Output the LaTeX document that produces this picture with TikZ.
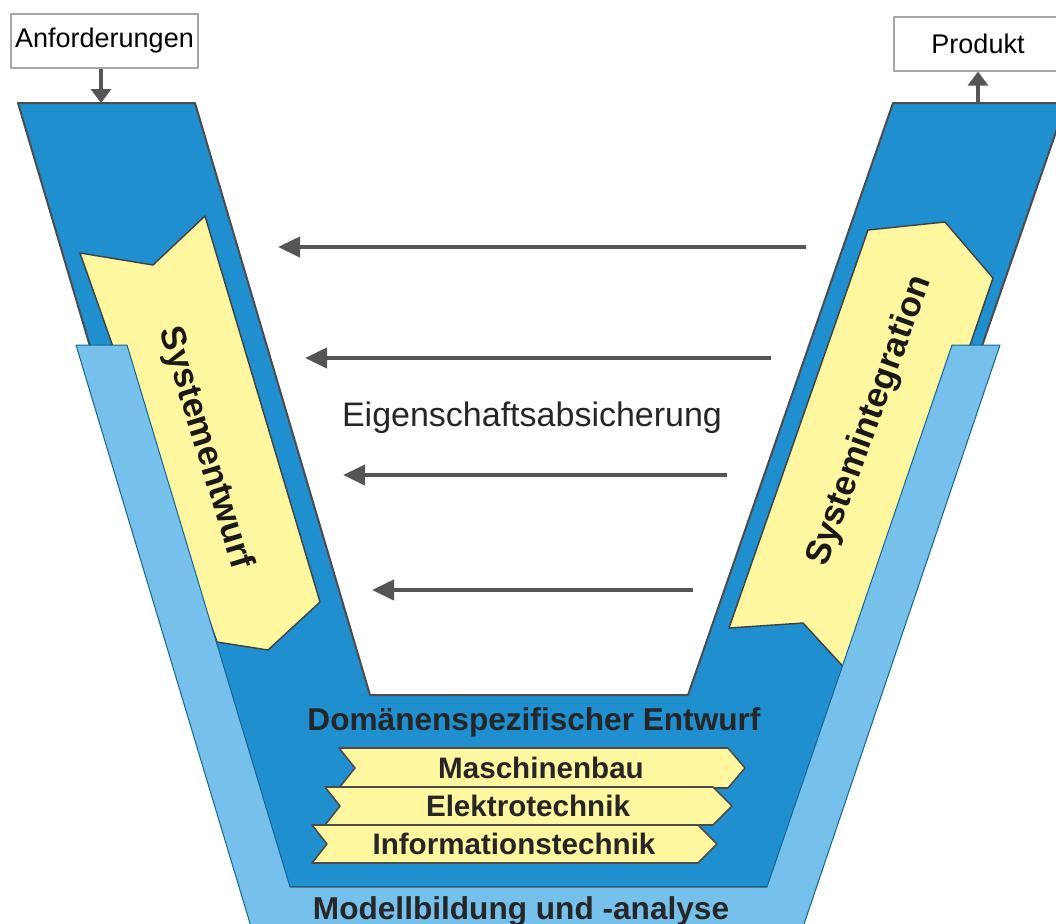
\documentclass[tikz,border=0pt]{standalone}
\usepackage{fontspec}
\setmainfont{Liberation Sans}
\usepackage{tikz}
\usetikzlibrary{arrows.meta}
\usetikzlibrary{positioning}
\usetikzlibrary{calc}
\definecolor{vblue}{RGB}{31,143,207}
\definecolor{vlight}{RGB}{118,193,236}
\definecolor{vyellow}{RGB}{255,247,160}
\definecolor{vgray}{RGB}{85,85,85}
\tikzset{every picture/.style={line join=round},
  phase/.style={fill=vyellow,draw=black!75,line width=0.7pt},
  domainband/.style={fill=vyellow,draw=black!70,line width=0.8pt},
  iobox/.style={draw=black!35,fill=white,line width=0.6pt,inner sep=0pt,minimum height=27pt,font=\fontsize{13.5}{16}\selectfont},
  check/.style={vgray,line width=2pt,-{Triangle[length=11pt,width=10pt]}},
  inout/.style={vgray,line width=1.6pt,-{Triangle[length=7pt,width=10pt]}},
  boldlabel/.style={font=\bfseries\fontsize{15.8}{18}\selectfont,text=black!85},
  phaselabel/.style={font=\bfseries\fontsize{17.5}{20}\selectfont,text=black!90},
  domlabel/.style={font=\bfseries\fontsize{14.8}{17}\selectfont,text=black!85}
}

\begin{document}
\begin{tikzpicture}[x=0.5pt, y=-0.5pt]
\useasboundingbox (0,0) rectangle (1056,923);
\clip (0,0) rectangle (1056,923);

% V band
\draw [fill=vblue, draw=black!70, line width=1pt] (18,103) -- (195,103) -- (370,695) -- (688,695) -- (893,103) -- (1066,103) -- (795,887) -- (250,887) -- cycle;

% phases
\draw [phase] (80,253) -- (153,265) -- (205,216) -- (320,602) -- (268,650) -- (217,642) -- cycle;
\draw [phase] (868,230) -- (945,222) -- (993,278) -- (862,660) -- (850,674) -- (803,623) -- (729,628) -- cycle;

% modelling band
\draw [fill=vlight, draw=vblue!70!black, line width=0.5pt] (76,345) -- (127,345) -- (290,887) -- (767,887) -- (952,345) -- (1000,345) -- (802,930) -- (252,930) -- cycle;

\node (sent) at (205,448) [phaselabel, rotate=-73] {Systementwurf};
\node (sint) at (870,421) [phaselabel, rotate=70] {Systemintegration};

% domains
\draw [domainband] (339,748) -- (728,748) -- (745,768) -- (728,788) -- (339,788) -- (355,768) -- cycle;
\draw [domainband] (325,787) -- (713,787) -- (732,806) -- (713,825) -- (325,825) -- (340,806) -- cycle;
\draw [domainband] (312,825) -- (698,825) -- (717,844) -- (698,863) -- (312,863) -- (327,844) -- cycle;
\node (mb) at (541,768) [domlabel] {Maschinenbau};
\node (et) at (528,806) [domlabel] {Elektrotechnik};
\node (it) at (514,844) [domlabel] {Informationstechnik};

\node (dom) at (534,722) [boldlabel] {Domänenspezifischer Entwurf};
\node (mod) at (521,919) [boldlabel, anchor=base] {Modellbildung und -analyse};

% verification
\node (eig) at (532,418) [font=\fontsize{17}{20}\selectfont, text=black!85] {Eigenschaftsabsicherung};
\coordinate (c1r) at (806,247);
\coordinate (c1l) at (278,247);
\coordinate (c2r) at (771,358);
\coordinate (c2l) at (305,358);
\coordinate (c3r) at (727,475);
\coordinate (c3l) at (343,475);
\coordinate (c4r) at (693,590);
\coordinate (c4l) at (372,590);
\draw [check] (c1r) -- (c1l);
\draw [check] (c2r) -- (c2l);
\draw [check] (c3r) -- (c3l);
\draw [check] (c4r) -- (c4l);

% in and out
\node (anf) at (104.5,41) [iobox, minimum width=93.5pt] {Anforderungen};
\node (prod) at (978,44) [iobox, minimum width=84pt] {Produkt};
\coordinate (vin) at (101,103);
\coordinate (vout) at (978,103);
\draw [inout] (anf.south -| vin) -- (vin);
\draw [inout] (vout) -- (prod.south);
\end{tikzpicture}
\end{document}
